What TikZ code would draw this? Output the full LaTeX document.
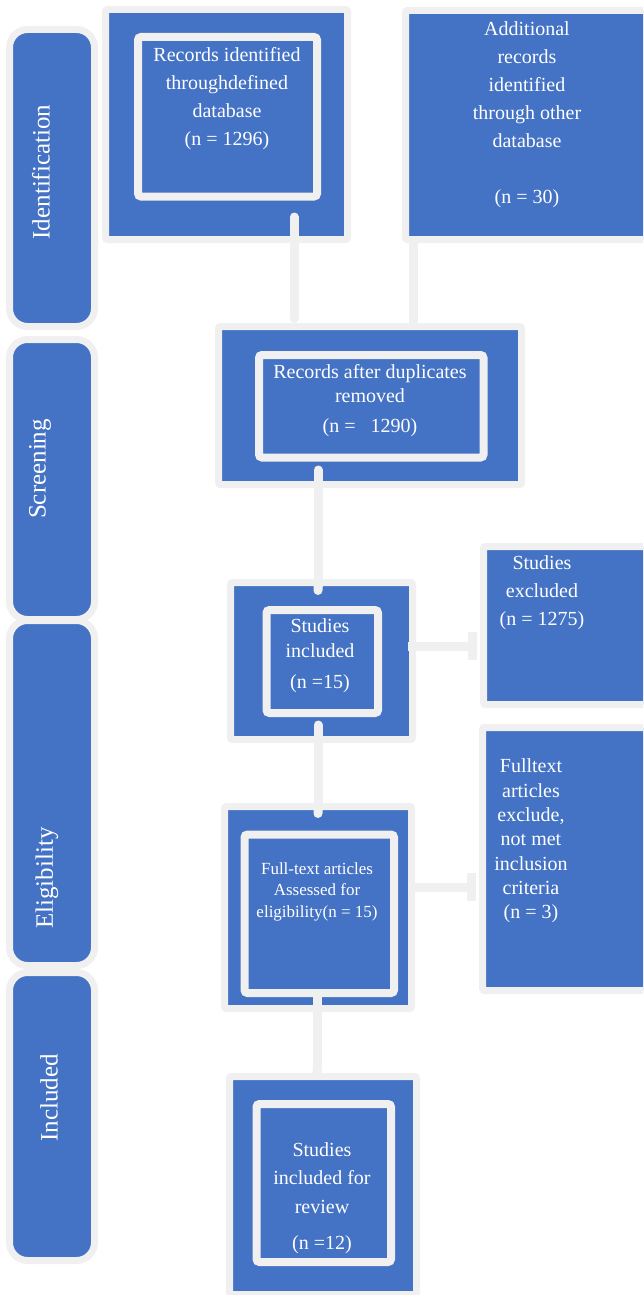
\documentclass[tikz,border=0pt]{standalone}
\usepackage{fontspec}
\setmainfont{Liberation Serif}
\usetikzlibrary{arrows.meta}

\definecolor{boxblue}{RGB}{68,114,196}
\definecolor{edgegrey}{RGB}{240,240,240}

\begin{document}
\begin{tikzpicture}[
    x=1pt, y=-1pt,
    phasebox/.style={draw=edgegrey, fill=boxblue, line width=7pt, rounded corners=18pt, inner sep=0pt},
    phasetext/.style={text=white, rotate=90, font=\fontsize{25}{30}\selectfont},
    outbox/.style={draw=edgegrey, fill=boxblue, line width=7pt, rounded corners=2pt, inner sep=0pt},
    inframe/.style={draw=edgegrey, fill=boxblue, line width=8pt, rounded corners=3pt, inner sep=0pt},
    boxtext/.style={text=white, align=center, inner sep=0pt, font=\fontsize{20}{28}\selectfont},
    link/.style={draw=edgegrey, line width=9pt, line cap=round},
    downlink/.style={link, -{Round Cap[]}},
    sidelink/.style={link, line cap=butt, -{Rectangle[length=9pt, width=28pt]}},
]

\useasboundingbox (0,0) rectangle (643,1295);
\clip (0,0) rectangle (643,1295);

% =============================================================================
% Phase column
% =============================================================================
\node[phasebox, minimum width=85pt, minimum height=297pt] (idphase) at (52,178) {};
\node[phasetext] (idtext) at (41,172) {Identification};

\node[phasebox, minimum width=85pt, minimum height=280pt] (scrphase) at (52,479.5) {};
\node[phasetext] (scrtext) at (40,469) {Screening};

\node[phasebox, minimum width=85pt, minimum height=345pt] (eligphase) at (52,793) {};
\node[phasetext] (eligtext) at (47,878) {Eligibility};

\node[phasebox, minimum width=85pt, minimum height=288pt] (inclphase) at (52,1116.5) {};
\node[phasetext] (incltext) at (49,1098) {Included};

% =============================================================================
% Flow boxes
% =============================================================================
% --- Identification ---
\node[outbox, minimum width=242pt, minimum height=230pt] (recbox) at (226.5,124.5) {};
\node[inframe, minimum width=179pt, minimum height=159.5pt] (recframe) at (227.5,116.75) {};
\node[boxtext] (rectext) at (227,98.5) {Records identified\\throughdefined\\database\\(n = 1296)};

\node[outbox, minimum width=274.5pt, minimum height=229pt] (addbox) at (542.75,125) {};
\node[boxtext] (addtext) at (527,115) {Additional\\records\\identified\\through other\\database\\[28pt](n = 30)};

% --- Screening ---
\node[outbox, minimum width=303pt, minimum height=158pt] (dupbox) at (370,405.5) {};
\node[inframe, minimum width=224.5pt, minimum height=102.5pt] (dupframe) at (371.25,406.25) {};
\node[boxtext, font=\fontsize{20}{24}\selectfont] (duptext) at (370,401) {Records after duplicates\\removed\\[6pt](n = \ \ 1290)};

% --- Studies included / excluded ---
\node[outbox, minimum width=182pt, minimum height=157pt] (incbox) at (321.5,661) {};
\node[inframe, minimum width=111.5pt, minimum height=103pt] (incframe) at (322.25,661.5) {};
\node[boxtext, font=\fontsize{20}{25}\selectfont] (inctext) at (320,656) {Studies\\included\\[6pt](n =15)};

\node[outbox, minimum width=196.5pt, minimum height=158pt] (exbox) at (581.75,625.5) {};
\node[boxtext] (extext) at (542,592.5) {Studies\\excluded\\(n = 1275)};

% --- Eligibility ---
\node[outbox, minimum width=187pt, minimum height=202pt] (fullbox) at (318,907.5) {};
\node[inframe, minimum width=149.5pt, minimum height=158.5pt] (fullframe) at (319.25,913.75) {};
\node[boxtext, font=\fontsize{17}{21.5}\selectfont] (fulltext) at (317,891.5) {Full-text articles\\Assessed for\\eligibility(n = 15)};

\node[outbox, minimum width=197.5pt, minimum height=263pt] (ftexbox) at (581.25,859) {};
\node[boxtext, font=\fontsize{20}{24.3}\selectfont] (ftextext) at (531,841) {Fulltext\\articles\\exclude,\\not met\\inclusion\\criteria\\(n = 3)};

% --- Included ---
\node[outbox, minimum width=187pt, minimum height=218pt] (revbox) at (323,1185.5) {};
\node[inframe, minimum width=134.5pt, minimum height=158pt] (revframe) at (323.75,1183) {};
\node[boxtext, font=\fontsize{20}{28.5}\selectfont] (revtext) at (322,1198) {Studies\\included for\\review\\[8pt](n =12)};

% =============================================================================
% Connectors
% =============================================================================
\coordinate (recfoot) at (294,217);
\draw[link, shorten >=4.5pt] (recfoot) -- (recfoot |- dupbox.north);

\coordinate (addfoot) at (413,239.5);
\draw[link, line cap=butt] (addfoot) -- (addfoot |- dupbox.north);

\coordinate (dupfoot) at (318,470);
\draw[downlink, shorten >=-16pt] (dupfoot) -- (dupfoot |- incbox.north);

\coordinate (incfoot) at (318,725);
\draw[downlink, shorten >=-15pt] (incfoot) -- (incfoot |- fullbox.north);

\coordinate (fullfoot) at (317,997);
\draw[downlink, shorten >=-5pt] (fullfoot) -- (fullfoot |- revbox.north);

% --- side arrows ---
\coordinate (incside) at (408,646);
\draw[sidelink, shorten >=3.5pt] (incside) -- (incside -| exbox.west);

\coordinate (fullside) at (408,887);
\draw[sidelink, shorten >=3.5pt] (fullside) -- (fullside -| ftexbox.west);

\end{tikzpicture}
\end{document}
